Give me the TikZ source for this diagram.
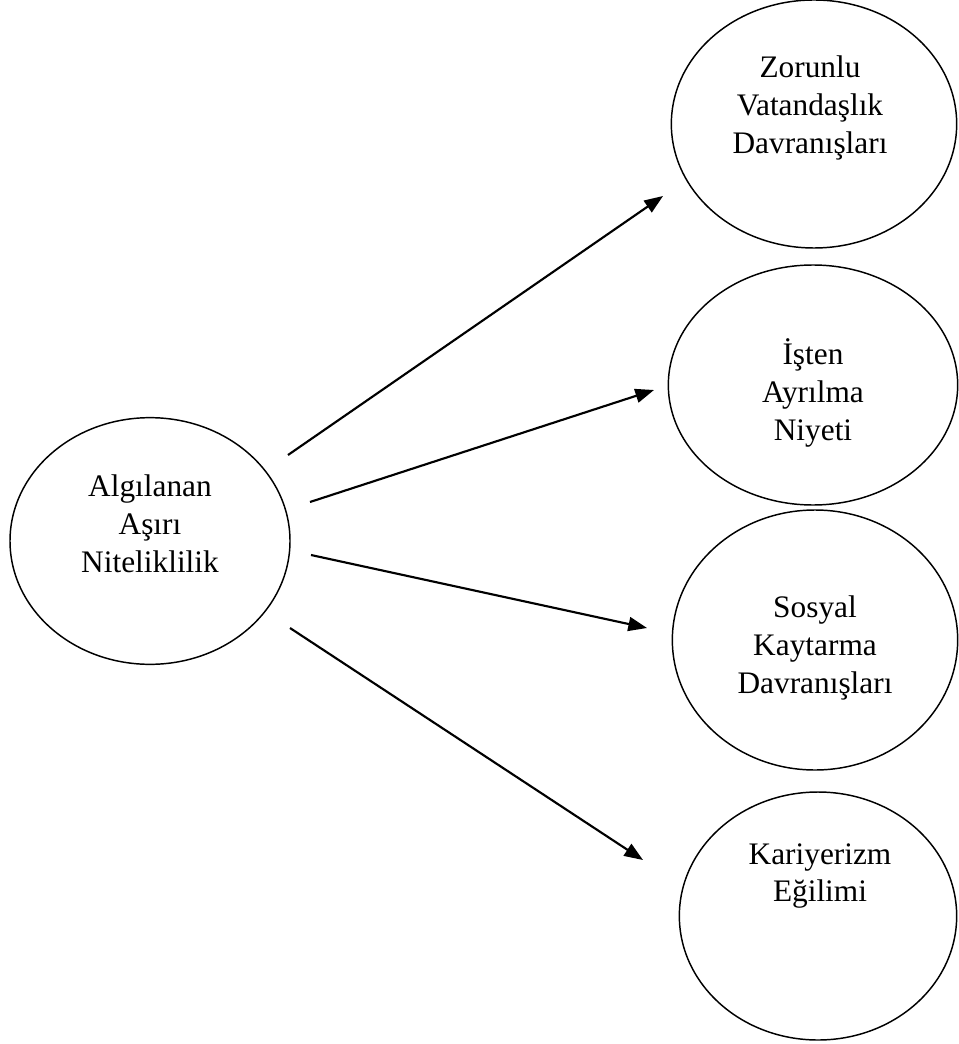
\documentclass[tikz,border=0pt]{standalone}
\usepackage{fontspec}
\setmainfont{Liberation Serif}
\usetikzlibrary{arrows.meta, positioning, shapes.geometric}

\begin{document}
\begin{tikzpicture}[x=0.75pt, y=-0.75pt,
    oval/.style={draw, ellipse, line width=1.1pt, inner sep=0pt},
    lbl/.style={align=center, font=\fontsize{23.5}{28.3}\selectfont},
    link/.style={-{Triangle[length=14pt, width=10.5pt]}, line width=1.6pt}]
    \useasboundingbox (0,0) rectangle (958,1044);

    % Ovals
    \node[oval, minimum width=210pt, minimum height=185pt] (cause) at (150,541) {};
    \node[oval, minimum width=214pt, minimum height=186pt] (ocb) at (814,124) {};
    \node[oval, minimum width=217pt, minimum height=180pt] (quit) at (813,385) {};
    \node[oval, minimum width=214pt, minimum height=195pt] (loaf) at (815,640) {};
    \node[oval, minimum width=208pt, minimum height=186pt] (career) at (818,916) {};

    % Texts
    \node[lbl] (causetxt) at (150,524) {Algılanan\\Aşırı\\Niteliklilik};
    \node[lbl] (ocbtxt) at (810,108) {Zorunlu\\Vatandaşlık\\Davranışları};
    \node[lbl] (quittxt) at (813,393) {İşten\\Ayrılma\\Niyeti};
    \node[lbl] (loaftxt) at (815,648) {Sosyal\\Kaytarma\\Davranışları};
    \node[lbl] (careertxt) at (820,876) {Kariyerizm\\Eğilimi};

    % Arrow ends
    \coordinate (s1) at (288,455);
    \coordinate (e1) at (663,196);
    \coordinate (s2) at (310,502);
    \coordinate (e2) at (654,390);
    \coordinate (s3) at (311,555);
    \coordinate (e3) at (647,628);
    \coordinate (s4) at (290,628);
    \coordinate (e4) at (643,860);

    % Arrows
    \draw[link] (s1) -- (e1);
    \draw[link] (s2) -- (e2);
    \draw[link] (s3) -- (e3);
    \draw[link] (s4) -- (e4);
\end{tikzpicture}
\end{document}
